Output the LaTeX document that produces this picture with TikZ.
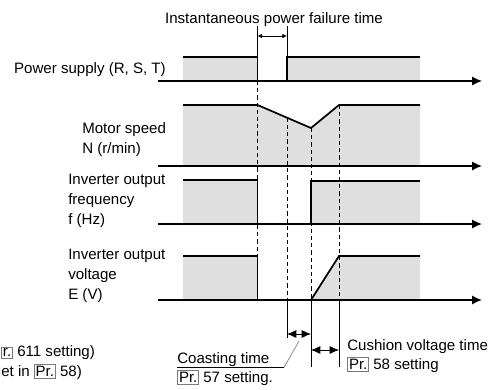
\documentclass[tikz,border=0pt]{standalone}
\usepackage{fontspec}
\setmainfont{Liberation Sans}
\usetikzlibrary{arrows.meta}
\definecolor{Area}{HTML}{DFDFDF}
\definecolor{Frame}{HTML}{7A7A7A}
\newcommand{\prbox}[1]{{\setlength{\fboxsep}{0.8pt}\setlength{\fboxrule}{0.5pt}\fcolorbox{Frame}{white}{#1}}}

\begin{document}
\begin{tikzpicture}[
	x=0.75pt, y=-0.75pt,
	font=\fontsize{11.3}{15}\selectfont,
	signal/.style={line width=1.3pt},
	area/.style={fill=Area, draw=none},
	axisline/.style={line width=1.3pt, -{Latex[length=7.5pt,width=7pt]}},
	guide/.style={line width=0.6pt, dash pattern=on 3.2pt off 2.2pt},
	extline/.style={line width=0.6pt},
	dimarrow/.style={line width=0.6pt, {Latex[length=7pt,width=6pt]}-{Latex[length=7pt,width=6pt]}},
	smallarrow/.style={line width=0.6pt, {Latex[length=3.5pt,width=3.5pt]}-{Latex[length=3.5pt,width=3.5pt]}},
	sigtext/.style={align=left, inner sep=0pt, anchor=west}
	]
	
	\useasboundingbox (0,0) rectangle (492,389);
	
	% ---------------------------------------------------------
	% SHADED AREAS
	% ---------------------------------------------------------
	
	\fill[area] (183,57) rectangle (257.5,81);
	\fill[area] (287,57) rectangle (420,81);
	\fill[area] (183,105) -- (257.5,105) -- (311,128) -- (339,105)
	-- (420,105) -- (420,166) -- (183,166) -- cycle;
	\fill[area] (183,180) rectangle (257.5,224);
	\fill[area] (311,181) rectangle (420,224);
	\fill[area] (183,256) rectangle (257.5,300);
	\fill[area] (311,300) -- (339,256) -- (420,256) -- (420,300) -- cycle;
	
	% ---------------------------------------------------------
	% TIME GUIDES
	% ---------------------------------------------------------
	
	\draw[guide] (257.5,81) -- (257.5,256);
	\draw[guide] (287,117.7) -- (287,300);
	\draw[guide] (311,128) -- (311,300);
	\draw[guide] (339,105) -- (339,300);
	
	\draw[extline] (287,300) -- (287,338);
	\draw[extline] (311,300) -- (311,367);
	\draw[extline] (339,300) -- (339,367);
	
	% ---------------------------------------------------------
	% POWER SUPPLY
	% ---------------------------------------------------------
	
	\node[sigtext, anchor=east] (supply) at (166,70) {Power supply (R, S, T)};
	\draw[signal] (183,57) -- (257.5,57) -- (257.5,81);
	\draw[signal] (287,81) -- (287,57) -- (420,57);
	\draw[axisline] (158,81) -- (482,81);
	
	% ---------------------------------------------------------
	% MOTOR SPEED
	% ---------------------------------------------------------
	
	\node[sigtext] (speed) at (82,140) {Motor speed\\N (r/min)};
	\draw[signal] (183,105) -- (257.5,105) -- (311,128) -- (339,105) -- (420,105);
	\draw[axisline] (158,166) -- (482,166);
	
	% ---------------------------------------------------------
	% OUTPUT FREQUENCY
	% ---------------------------------------------------------
	
	\node[sigtext] (freq) at (68,201) {Inverter output\\frequency\\f (Hz)};
	\draw[signal] (183,180) -- (257.5,180) -- (257.5,224);
	\draw[signal] (311,224) -- (311,181) -- (420,181);
	\draw[axisline] (158,224) -- (482,224);
	
	% ---------------------------------------------------------
	% OUTPUT VOLTAGE
	% ---------------------------------------------------------
	
	\node[sigtext] (volt) at (68,276) {Inverter output\\voltage\\E (V)};
	\draw[signal] (183,256) -- (257.5,256) -- (257.5,300);
	\draw[signal] (311,300) -- (339,256) -- (420,256);
	\draw[axisline] (158,300) -- (482,300);
	
	% ---------------------------------------------------------
	% POWER FAILURE TIME
	% ---------------------------------------------------------
	
	\node (failure) at (274,20) {Instantaneous power failure time};
	\draw[extline] (257.5,26) -- (257.5,57);
	\draw[extline] (287,26) -- (287,57);
	\draw[smallarrow] (257.5,36) -- (287,36);
	
	% ---------------------------------------------------------
	% COASTING AND CUSHION TIMES
	% ---------------------------------------------------------
	
	\draw[dimarrow] (287,334) -- (311,334);
	\draw[dimarrow] (311,350) -- (339,350);
	
	\node[sigtext] (coast) at (177,360) {Coasting time};
	\node[sigtext] (coastpr) at (177,378) {\prbox{Pr.} 57 setting.};
	\coordinate (bend) at (284,367.5);
	\draw[line width=0.6pt] (177,367.5) -- (bend);
	\draw[Frame, line width=0.5pt] (bend) -- (299,341);
	
	\node[sigtext] (cushion) at (347,347) {Cushion voltage time};
	\node[sigtext] (cushionpr) at (347,365) {\prbox{Pr.} 58 setting};
	
	% ---------------------------------------------------------
	% NOTES
	% ---------------------------------------------------------
	
	\node[sigtext] (noteA) at (1,353) {\prbox{r.} 611 setting)};
	\node[sigtext] (noteB) at (1,372) {et in \prbox{Pr.} 58)};
	
\end{tikzpicture}
\end{document}
